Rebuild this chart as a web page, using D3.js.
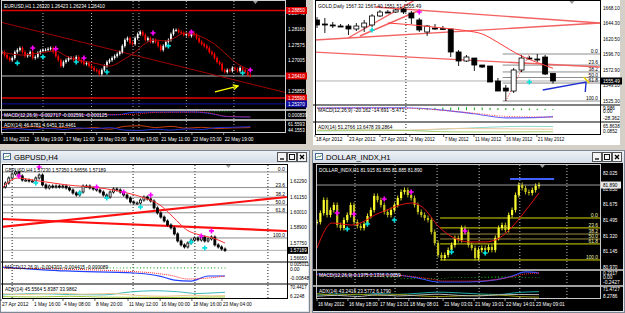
<!DOCTYPE html>
<html>
<head>
<meta charset="UTF-8">
<title>MT4 four charts</title>
<script src="https://d3js.org/d3.v7.min.js"></script>
<style>
body { margin: 0; background: #d4d0c8; }
svg { display: block; font-family: "Liberation Sans", Arial, sans-serif; }
</style>
</head>
<body>
<svg id="chart" width="625" height="313"></svg>
<script>

// ---------- EURUSD,H1 ----------
const eurCloses = [1.2730, 1.2719, 1.2708, 1.2700, 1.2708, 1.2730, 1.2738, 1.2745, 1.2730, 1.2715,
  1.2719, 1.2730, 1.2708, 1.2712, 1.2727, 1.2734, 1.2738, 1.2738, 1.2742, 1.2745,
  1.2730, 1.2715, 1.2700, 1.2678, 1.2693, 1.2700, 1.2708, 1.2708, 1.2700, 1.2712,
  1.2700, 1.2693, 1.2686, 1.2689, 1.2678, 1.2671, 1.2663, 1.2660, 1.2648, 1.2663,
  1.2678, 1.2693, 1.2700, 1.2708, 1.2715, 1.2723, 1.2730, 1.2753, 1.2775, 1.2782,
  1.2764, 1.2760, 1.2782, 1.2797, 1.2805, 1.2794, 1.2775, 1.2782, 1.2768, 1.2775,
  1.2768, 1.2753, 1.2738, 1.2753, 1.2768, 1.2775, 1.2797, 1.2812, 1.2812, 1.2805,
  1.2801, 1.2794, 1.2797, 1.2790, 1.2801, 1.2794, 1.2782, 1.2768, 1.2760, 1.2753,
  1.2745, 1.2730, 1.2723, 1.2708, 1.2693, 1.2686, 1.2663, 1.2656, 1.2663, 1.2660,
  1.2671, 1.2667, 1.2660, 1.2671, 1.2663, 1.2656, 1.2645, 1.2641];
const eurMA = [[0, 1.2730], [8, 1.2719], [15, 1.2727], [21, 1.2734], [25, 1.2715], [30, 1.2700],
  [36, 1.2689], [42, 1.2678], [48, 1.2705], [52, 1.2730], [56, 1.2762], [60, 1.2775], [64, 1.2771],
  [68, 1.2786], [71, 1.2801], [75, 1.2797], [79, 1.2782], [83, 1.2760], [87, 1.2727], [91, 1.2693],
  [95, 1.2671], [97, 1.2663]];
const eurUpFractals = [[12, 1.2745], [21, 1.2742], [32, 1.2708], [59, 1.2801], [74, 1.2805], [97, 1.2663]];
const eurDownFractals = [[6, 1.2689], [16, 1.2712], [29, 1.2693], [41, 1.2656], [65, 1.2753], [94, 1.2652]];
const eurTicks = [1.28740, 1.28160, 1.27575, 1.27005, 1.25855];
const eurLevels = [1.28850, 1.26410, 1.25590, 1.25370];
const eurTrend = [[-0.8, 1.28421], [111.5, 1.25776]];
const eurArrow = [[83.2, 1.25813], [92.2, 1.26036]];
const eurSeparators = [16, 35, 51.2, 53.5, 72, 90.6];
const eurTimes = ["16 May 2012", "16 May 19:00", "17 May 11:00", "18 May 03:00", "18 May 19:00", "21 May 11:00", "22 May 03:00", "22 May 19:00"];
const eurTimeBars = [0, 12.2, 24.6, 37, 49.4, 61.8, 74.2, 86.6];
const eurMacd = [[0, -0.0018], [45, -0.0017], [52, 0.0002], [75, 0.0003], [82, -0.0010], [88, -0.0030], [97, -0.0033]];
const eurSignal = [[0, -0.0019], [50, -0.0015], [60, 0.0000], [78, 0.0002], [88, -0.0028], [97, -0.0032]];
const eurHist = [0.0003, 0.0004, 0.0005, 0.0006, 0.0006, 0.0007, 0.0007, 0.0006, 0.0005, 0.0004, 0.0003, 0.0002];
const eurPlusDI = [[0, 30], [6, 24], [12, 34], [18, 22], [24, 30], [30, 20], [36, 28], [42, 18], [48, 36], [54, 40],
  [60, 28], [66, 36], [72, 24], [78, 30], [84, 22], [90, 26], [97, 28]];
const eurMinusDI = [[0, 16], [6, 22], [12, 14], [18, 24], [24, 16], [30, 26], [36, 20], [42, 28], [48, 12], [54, 10],
  [60, 18], [66, 12], [72, 20], [78, 16], [84, 28], [90, 30], [97, 34]];

// ---------- GOLD,Daily ----------
const goldOpen  = [1649.6, 1643.4, 1641.9, 1640.3, 1640.3, 1635.7, 1638.8, 1641.9, 1655.8, 1661.9, 1661.9, 1666.6, 1660.4, 1649.6, 1631.1, 1637.2,
  1636.5, 1635.7, 1600.2, 1586.3, 1590.9, 1580.1, 1578.6, 1555.4, 1544.6, 1540.0, 1572.4, 1590.9, 1589.4, 1592.5, 1567.3];
const goldHigh  = [1654.2, 1652.7, 1646.5, 1643.4, 1643.4, 1644.9, 1649.6, 1658.8, 1665.0, 1665.0, 1666.6, 1668.1, 1663.5, 1652.7, 1641.9, 1643.4,
  1640.3, 1635.7, 1603.3, 1595.6, 1590.9, 1580.1, 1578.6, 1560.1, 1549.3, 1575.5, 1595.6, 1594.0, 1597.1, 1595.6, 1567.4];
const goldLow   = [1637.2, 1629.5, 1637.2, 1638.8, 1626.4, 1632.6, 1631.1, 1638.8, 1654.2, 1660.4, 1660.4, 1658.8, 1643.4, 1631.1, 1624.9, 1634.2,
  1634.2, 1592.5, 1578.6, 1584.8, 1570.9, 1575.5, 1553.9, 1540.0, 1524.6, 1536.9, 1569.3, 1587.9, 1584.8, 1564.7, 1551.5];
const goldClose = [1641.9, 1642.6, 1641.5, 1640.0, 1635.7, 1640.3, 1644.9, 1655.8, 1661.9, 1661.5, 1665.0, 1661.9, 1652.7, 1634.2, 1640.3, 1636.8,
  1636.0, 1600.2, 1586.3, 1592.5, 1580.1, 1577.0, 1553.9, 1540.0, 1540.0, 1572.4, 1590.9, 1590.0, 1589.0, 1566.2, 1555.5];
const goldMA = [[9, 1645], [13, 1641], [16, 1637.2], [19, 1633], [21, 1628], [23, 1615], [24.5, 1604], [26, 1594], [28, 1584], [30, 1575]];
const goldUpFractals = [[13, 1661.9]];
const goldDownFractals = [[7, 1634.2], [27, 1553.9]];
const goldTicks = [1668.10, 1644.30, 1620.50, 1596.70, 1572.90, 1549.10, 1525.30];
const goldTrends = [
  [[7.37, 1669.6], [35.96, 1644.9]],
  [[-0.25, 1618.7], [35.96, 1644.9]],
  [[-0.64, 1600.2], [35.96, 1577.0]],
  [[3.94, 1621.8], [12.45, 1680.4]],
  [[5.46, 1624.9], [13.1, 1665.0]]
];
const goldFib = {hi: 1597.1, lo: 1524.6, from: 23.6};
const goldFibBase = [[24, 1524.6], [27, 1597.1]];
const goldBlue = [[28.7, 1541.6], [34.2, 1553.9], [34.1, 1538.5]];
const goldYellow = [[33.9, 1561.6], [34.6, 1552.4]];
const goldSeparators = [11.3];
const goldTimes = ["18 Apr 2012", "23 Apr 2012", "27 Apr 2012", "2 May 2012", "7 May 2012", "11 May 2012", "16 May 2012", "21 May 2012"];
const goldTimeBars = [-0.25, 3.94, 8.0, 11.8, 16.1, 19.95, 23.9, 27.95];
const goldMacd = [[0, 8], [11, 9], [16, 0], [20, -14], [24, -30], [27, -29], [30, -25]];
const goldSignal = [[0, 8], [11, 7], [20, -12], [24, -24], [30, -27]];
const goldHist = [5, 6, 7, 8, 8, 9, 9, 8, 8, 7, 6, 6, 5, 4, 4, 3, 3, 2];
const goldAdx = [[0, 15], [8, 18], [12, 20], [17, 35], [22, 50], [26, 58], [30, 56]];
const goldMinusDI = [[0, 22], [10, 20], [14, 28], [18, 38], [22, 36], [26, 33], [30, 31]];
const goldPlusDI = [[0, 20], [8, 24], [12, 18], [15, 9], [20, 5], [25, 6], [30, 7]];

// ---------- GBPUSD,H4 ----------
const gbpCloses = [1.6185, 1.6214, 1.6251, 1.6281, 1.6295, 1.6266, 1.6236, 1.6236, 1.6229, 1.6229,
  1.6251, 1.6273, 1.6200, 1.6178, 1.6192, 1.6185, 1.6192, 1.6185, 1.6192, 1.6178,
  1.6163, 1.6141, 1.6126, 1.6148, 1.6192, 1.6192, 1.6178, 1.6170, 1.6163, 1.6148,
  1.6126, 1.6111, 1.6148, 1.6170, 1.6163, 1.6148, 1.6126, 1.6104, 1.6075, 1.6067,
  1.6067, 1.6089, 1.6111, 1.6097, 1.6082, 1.6031, 1.5994, 1.5964, 1.5935, 1.5906,
  1.5884, 1.5840, 1.5788, 1.5759, 1.5744, 1.5773, 1.5795, 1.5810, 1.5795, 1.5817,
  1.5788, 1.5803, 1.5817, 1.5759, 1.5744, 1.5729, 1.5719];
const gbpMA = [[0, 1.6178], [4.7, 1.6251], [9.2, 1.6236], [19.2, 1.6200], [29, 1.6178], [37, 1.6141],
  [43, 1.6097], [46.7, 1.6053], [50.6, 1.5965], [54.7, 1.5869], [58.6, 1.5832], [62.4, 1.5810], [66, 1.5773]];
const gbpUpFractals = [[5, 1.6266], [11, 1.6332], [28, 1.6185], [36, 1.6148], [44, 1.6126], [59, 1.5825], [62, 1.5862]];
const gbpDownFractals = [[10, 1.6214], [23, 1.6141], [31, 1.6104], [41, 1.6038], [56, 1.5781], [60, 1.5737]];
const gbpTicks = [1.62290, 1.61150, 1.60010, 1.58900, 1.57750, 1.56650];
const gbpTrends = [[[0, 1.58909], [84.3, 1.61114]], [[0, 1.59497], [84.3, 1.58615]]];
const gbpFib = {hi: 1.62952, lo: 1.58101, from: -1};
const gbpSeparators = [3.0, 38.8, 57.1, 78.7];
const gbpTimes = ["27 Apr 2012", "1 May 16:00", "4 May 08:00", "8 May 20:00", "11 May 12:00", "16 May 00:00", "18 May 16:00", "23 May 04:00"];
const gbpTimeBars = [-0.3, 9.2, 18.05, 27.5, 37.3, 46.8, 56.2, 65.1];
const gbpMacd = [[0, 0.0013], [19, -0.0022], [39, -0.0040], [47, -0.0070], [51, -0.0103], [56, -0.0112], [61, -0.0067], [66, -0.0067]];
const gbpSignal = [[0, 0.0004], [41, -0.0031], [50, -0.0062], [55, -0.0094], [61, -0.0085], [66, -0.0067]];
const gbpHist = [0.0002, 0.0002, 0.0003, 0.0003, 0.0002, 0.0002, 0.0003, 0.0003, 0.0004, 0.0004,
  0.0003, 0.0003, 0.0002, 0.0002, 0.0003, 0.0004, 0.0004, 0.0005, 0.0005, 0.0004,
  0.0004, 0.0005, 0.0006, 0.0006, 0.0005, 0.0005, 0.0006, 0.0007, 0.0007, 0.0006,
  0.0006, 0.0007, 0.0008, 0.0008, 0.0007, 0.0007, 0.0008, 0.0008, 0.0007, 0.0006,
  0.0006, 0.0007, 0.0008, 0.0008, 0.0007, 0.0006, 0.0006, 0.0007, 0.0008, 0.0007,
  0.0006, 0.0006, 0.0007, 0.0007, 0.0006, 0.0006, 0.0005];
const gbpAdx = [[0, 18], [10, 25], [20, 20], [30, 18], [38, 35], [45, 42], [52, 36], [58, 26], [63, 30], [66, 33]];
const gbpMinusDI = [[0, 25], [8, 20], [16, 28], [24, 22], [32, 26], [40, 15], [48, 10], [56, 16], [62, 12], [66, 14]];
const gbpPlusDI = [[0, 8], [10, 6], [20, 10], [30, 5], [40, 4], [50, 3], [60, 5], [66, 6]];

// ---------- DOLLAR_INDX,H1 ----------
const dxCloses = [81.475, 81.576, 81.722, 81.554, 81.610, 81.666, 81.441, 81.408, 81.498, 81.554,
  81.666, 81.475, 81.430, 81.408, 81.453, 81.542, 81.610, 81.767, 81.722, 81.666,
  81.587, 81.554, 81.610, 81.666, 81.744, 81.812, 81.834, 81.778, 81.744, 81.666,
  81.587, 81.554, 81.520, 81.498, 81.363, 81.239, 81.105, 81.071, 81.105, 81.161,
  81.217, 81.296, 81.273, 81.408, 81.363, 81.217, 81.183, 81.071, 81.161, 81.183,
  81.161, 81.195, 81.161, 81.296, 81.408, 81.441, 81.385, 81.554, 81.610, 81.778,
  81.890, 81.857, 81.812, 81.801, 81.834, 81.880, 81.890];
const dxMA = [[0, 81.183], [4.5, 81.464], [10.4, 81.441], [18.5, 81.576], [28.3, 81.688], [31.3, 81.643],
  [36.3, 81.419], [40.2, 81.307], [45.2, 81.251], [50, 81.251], [54.2, 81.296], [58, 81.419], [61, 81.554], [66, 81.801]];
const dxUpFractals = [[6, 81.576], [11, 81.565], [20, 81.733], [28, 81.812], [44, 81.374]];
const dxDownFractals = [[9, 81.397], [15, 81.453], [23, 81.498], [40, 81.138], [50, 81.127]];
const dxTicks = [82.025, 81.850, 81.675, 81.495, 81.320, 81.145, 80.970];
const dxBlue = [[57.4, 81.958], [70.5, 81.958]];
const dxFib = {hi: 81.520, lo: 81.049, from: 36.6};
const dxSeparators = [11.3, 23.2, 35.7, 48.2, 60.3, 74.3];
const dxTimes = ["16 May 2012", "16 May 18:00", "17 May 13:01", "18 May 08:01", "21 May 03:01", "21 May 19:01", "22 May 14:01", "23 May 09:01"];
const dxTimeBars = [0, 9.2, 18.4, 27.3, 37.5, 46.7, 55.9, 64.8];
const dxMacd = [[0, 0.185], [10, 0.14], [20, 0.185], [30, 0], [36, -0.185], [45, -0.185], [53, -0.09], [58, 0.09], [62, 0.28], [66, 0.23]];
const dxSignal = [[0, 0.14], [20, 0.14], [32, 0], [38, -0.14], [48, -0.14], [56, 0], [62, 0.185], [66, 0.23]];
const dxHist = [0.01, 0.02, 0.02, 0.01, 0.00, -0.01, -0.02, -0.03, -0.03, -0.02,
  -0.02, -0.03, -0.04, -0.04, -0.03, -0.02, -0.02, -0.01, -0.01, 0.00,
  0.00, 0.01, 0.01, 0.02, 0.02, 0.01, 0.01, 0.02, 0.03, 0.03,
  0.04, 0.04, 0.05, 0.05, 0.06, 0.06, 0.05, 0.05, 0.04, 0.04,
  0.03, 0.03, 0.02, 0.02, 0.01, 0.01, 0.01];
const dxAdx = [[0, 20], [6, 28], [12, 22], [18, 30], [24, 25], [30, 32], [36, 40], [42, 35], [48, 28], [54, 24], [60, 38], [66, 43]];
const dxPlusDI = [[0, 30], [6, 20], [12, 26], [18, 18], [24, 24], [30, 15], [36, 10], [42, 14], [48, 18], [54, 20], [60, 10], [66, 6]];
const dxMinusDI = [[0, 12], [6, 18], [12, 10], [18, 22], [24, 14], [30, 20], [36, 26], [42, 18], [48, 14], [54, 22], [60, 24], [66, 23]];

const fibLevels = [0, 23.6, 38.2, 50.0, 61.8, 100.0];

// ---------------------------------------------------------------
const svg = d3.select("#chart");
svg.append("rect").attr("width", 625).attr("height", 313).attr("fill", "#d4d0c8");

const defs = svg.append("defs");
const tg = defs.append("linearGradient").attr("id", "tbar").attr("x1", 0).attr("x2", 0).attr("y1", 0).attr("y2", 1);
tg.append("stop").attr("offset", 0).attr("stop-color", "#eef2f7");
tg.append("stop").attr("offset", 1).attr("stop-color", "#d3dbe5");
defs.append("marker").attr("id", "yhead").attr("viewBox", "0 0 8 8").attr("refX", 7).attr("refY", 4)
  .attr("markerWidth", 5).attr("markerHeight", 5).attr("orient", "auto")
  .append("path").attr("d", "M1,1L7,4L1,7").attr("fill", "none").attr("stroke", "#ffff00").attr("stroke-width", 1.5);

// small MT4-style label: squeezed to ~2.4px per character
function label(g, x, y, s, fill, anchor) {
  return g.append("text").attr("x", x).attr("y", y).attr("fill", fill)
    .attr("text-anchor", anchor || "start")
    .attr("textLength", s.length * 2.4).attr("lengthAdjust", "spacingAndGlyphs")
    .text(s);
}

// MDI child window frame (title bar + buttons)
function windowFrame(x0, y0, w, h, title) {
  const g = svg.append("g");
  g.append("rect").attr("x", x0 + 0.5).attr("y", y0 + 0.5).attr("width", w - 1).attr("height", h - 1)
    .attr("fill", "#dfe4ea").attr("stroke", "#7d8794");
  g.append("rect").attr("x", x0 + 1).attr("y", y0 + 1).attr("width", w - 2).attr("height", 12).attr("fill", "url(#tbar)");
  g.append("rect").attr("x", x0 + 3.5).attr("y", y0 + 3.5).attr("width", 7).attr("height", 6)
    .attr("fill", "#fff").attr("stroke", "#4a6b94");
  g.append("path").attr("d", `M${x0 + 4.5},${y0 + 8}l2,-2l1.5,1l1.5,-2`).attr("fill", "none").attr("stroke", "#2d7a2d").attr("stroke-width", 0.8);
  g.append("text").attr("x", x0 + 14).attr("y", y0 + 10).attr("font-size", 7.6).attr("fill", "#000").text(title);
  const bx = x0 + w - 33;
  ["min", "max", "close"].forEach((b, k) => {
    const xb = bx + k * 10;
    g.append("rect").attr("x", xb + 0.5).attr("y", y0 + 2.5).attr("width", 9).attr("height", 9)
      .attr("fill", "#f4f4f4").attr("stroke", "#555");
    if (b === "min") g.append("path").attr("d", `M${xb + 3},${y0 + 9}h4`).attr("stroke", "#000").attr("stroke-width", 1.3);
    if (b === "max") g.append("rect").attr("x", xb + 2.5).attr("y", y0 + 4.5).attr("width", 5).attr("height", 5)
      .attr("fill", "none").attr("stroke", "#000").attr("stroke-width", 0.9);
    if (b === "close") g.append("path").attr("d", `M${xb + 3},${y0 + 5}l4,4M${xb + 7},${y0 + 5}l-4,4`)
      .attr("stroke", "#000").attr("stroke-width", 1.3);
  });
}

function drawPanel(c) {
  const g = svg.append("g").attr("font-size", 5.8);
  const x = d3.scaleLinear().domain(c.xCal[0]).range(c.xCal[1]);
  const y = d3.scaleLinear().domain(c.yCal[0]).range(c.yCal[1]);
  const L = c.left, R = c.right, T = c.main[0], B = c.main[1];
  const lastB = c.subs[c.subs.length - 1].bottom;

  g.append("rect").attr("x", c.box[0]).attr("y", c.box[1]).attr("width", c.box[2]).attr("height", c.box[3]).attr("fill", c.bg);

  // period separators
  c.vlines.forEach(b => {
    g.append("line").attr("x1", x(b)).attr("x2", x(b)).attr("y1", T).attr("y2", lastB)
      .attr("stroke", c.vColor).attr("stroke-dasharray", "1,2").attr("stroke-width", 0.9);
  });

  const clipId = "clip-" + c.key;
  g.append("clipPath").attr("id", clipId).append("rect").attr("x", L).attr("y", T).attr("width", R - L).attr("height", B - T);
  const m = g.append("g").attr("clip-path", `url(#${clipId})`);
  const line = d3.line().x(d => x(d[0])).y(d => y(d[1]));

  // horizontal price lines
  (c.hlines || []).forEach(h => {
    m.append("line").attr("x1", L).attr("x2", R).attr("y1", y(h.v)).attr("y2", y(h.v))
      .attr("stroke", h.color).attr("stroke-width", h.w || 1);
  });

  // fibonacci
  if (c.fib) {
    const f = c.fib;
    fibLevels.forEach(r => {
      const p = f.data.hi - (f.data.hi - f.data.lo) * r / 100;
      const xs = f.data.from < 0 ? L : x(f.data.from);
      m.append("line").attr("x1", xs).attr("x2", R).attr("y1", y(p)).attr("y2", y(p))
        .attr("stroke", (r === 38.2 || r === 50) && f.mid ? f.mid : f.color).attr("stroke-width", 1);
      label(m, R - 2, y(p) - 1, r.toFixed(1), f.text, "end");
    });
    if (f.base) m.append("path").attr("d", line(f.base)).attr("fill", "none")
      .attr("stroke", "#ff3030").attr("stroke-dasharray", "1,1.5");
  }

  // trend lines and drawings
  (c.trends || []).forEach(t => {
    m.append("path").attr("d", line(t.pts)).attr("fill", "none").attr("stroke", t.color)
      .attr("stroke-width", t.w || 1).attr("marker-end", t.head ? "url(#yhead)" : null);
  });

  // candles
  const bars = c.close.map((cl, i) => {
    const o = c.open ? c.open[i] : (i ? c.close[i - 1] : cl);
    return {i, o, cl, h: c.high ? c.high[i] : Math.max(o, cl), l: c.low ? c.low[i] : Math.min(o, cl)};
  });
  const ext = c.high ? 0 : c.wick;
  const cg = m.append("g");
  cg.selectAll("line").data(bars).join("line")
    .attr("x1", d => x(d.i)).attr("x2", d => x(d.i))
    .attr("y1", d => y(d.h) - ext).attr("y2", d => y(d.l) + ext)
    .attr("stroke", d => d.cl >= d.o ? c.bull.wick : c.bear.wick).attr("stroke-width", 0.9);
  cg.selectAll("rect").data(bars).join("rect")
    .attr("x", d => x(d.i) - c.bodyW / 2)
    .attr("y", d => y(Math.max(d.o, d.cl)))
    .attr("width", c.bodyW)
    .attr("height", d => Math.max(1, Math.abs(y(d.o) - y(d.cl))))
    .attr("fill", d => d.cl >= d.o ? c.bull.fill : c.bear.fill)
    .attr("stroke", d => (d.cl >= d.o ? c.bull.stroke : c.bear.stroke) || "none")
    .attr("stroke-width", 0.8);

  // moving average
  m.append("path").attr("d", line.curve(d3.curveMonotoneX)(c.ma.pts)).attr("fill", "none")
    .attr("stroke", c.ma.color).attr("stroke-width", c.ma.w || 1);
  line.curve(d3.curveLinear);

  // fractal arrows
  const cross = (pts, color) => pts.forEach(p => {
    const cx = x(p[0]), cy = y(p[1]);
    m.append("path").attr("d", `M${cx - 2.5},${cy}h5M${cx},${cy - 2.5}v5`).attr("stroke", color).attr("stroke-width", 1.6);
  });
  cross(c.up, "#ff00ff");
  cross(c.down, "#00e0e0");

  // header
  label(g, L + 3, T + 7, c.header, c.fg);

  // price axis
  c.ticks.forEach(v => label(g, R + 3, y(v) + 2, v.toFixed(c.digits), c.fg));
  (c.boxes || []).forEach(b => {
    g.append("rect").attr("x", R + 1).attr("y", y(b.v) - 3.5).attr("width", c.axisW).attr("height", 7).attr("fill", b.bg);
    label(g, R + 3, y(b.v) + 2, b.v.toFixed(c.digits), b.fg);
  });
  g.append("path").attr("d", `M${x(c.shiftBar) - 2.5},${T}h5l-2.5,3z`).attr("fill", "#9a9a9a");

  // indicator sub-windows
  c.subs.forEach((s, k) => {
    g.append("rect").attr("x", c.box[0]).attr("y", s.top - 2).attr("width", c.box[2]).attr("height", 2).attr("fill", c.sep);
    const sy = d3.scaleLinear().domain(s.cal[0]).range(s.cal[1]);
    const sid = clipId + "-" + k;
    g.append("clipPath").attr("id", sid).append("rect").attr("x", L).attr("y", s.top).attr("width", R - L).attr("height", s.bottom - s.top);
    const sg = g.append("g").attr("clip-path", `url(#${sid})`);
    if (s.hist) s.hist.vals.forEach((v, j) => {
      const xi = x(s.hist.start + j);
      sg.append("line").attr("x1", xi).attr("x2", xi).attr("y1", sy(0)).attr("y2", sy(v) + (v >= 0 ? -0.5 : 0.5))
        .attr("stroke", s.hist.color).attr("stroke-width", 1);
    });
    const sl = d3.line().x(d => x(d[0])).y(d => sy(d[1])).curve(d3.curveMonotoneX);
    s.lines.forEach(l => {
      sg.append("path").attr("d", sl(l.pts)).attr("fill", "none").attr("stroke", l.color)
        .attr("stroke-width", l.w || 1).attr("stroke-dasharray", l.dash || null);
    });
    label(g, L + 3, s.top + 6, s.title, c.fg);
    s.labels.forEach(a => label(g, R + 3, a.y, a.t, c.fg));
  });

  // chart frame
  g.append("rect").attr("x", L + 0.5).attr("y", T - 0.5).attr("width", R - L).attr("height", lastB - T + 1)
    .attr("fill", "none").attr("stroke", c.frame).attr("stroke-width", 1);

  // time axis
  c.times.forEach((t, k) => {
    const tx = x(c.timeBars[k]);
    g.append("line").attr("x1", tx).attr("x2", tx).attr("y1", lastB + 1).attr("y2", lastB + 3).attr("stroke", c.fg).attr("stroke-width", 0.6);
    label(g, tx + 1, c.timeY, t, c.fg);
  });
}

windowFrame(0, 150, 310, 163, "GBPUSD,H4");
windowFrame(312, 150, 313, 163, "DOLLAR_INDX,H1");

// EURUSD
drawPanel({
  key: "eur", box: [0, 0, 306, 144], bg: "#000", fg: "#fff", sep: "#a8a8a8", frame: "#d0d0d0", vColor: "#d0d0d0",
  left: 1, right: 285, main: [1, 108], axisW: 21,
  xCal: [[0, 97], [2, 250.3]], yCal: [[1.28160, 1.27005], [29, 60]],
  close: eurCloses, bodyW: 1.7, wick: 1.6,
  bull: {fill: "#ffffff", wick: "#ffffff"}, bear: {fill: "#ff0000", wick: "#ff0000"},
  ma: {pts: eurMA, color: "#b00000"},
  up: eurUpFractals, down: eurDownFractals,
  hlines: [{v: eurLevels[0], color: "#e00000", w: 1.5}, {v: eurLevels[1], color: "#bdbdbd"},
    {v: eurLevels[2], color: "#e00000", w: 1.5}, {v: eurLevels[3], color: "#1010a0"}],
  trends: [{pts: eurTrend, color: "#a00000"}, {pts: eurArrow, color: "#ffff00", w: 1.3, head: true}],
  ticks: eurTicks, digits: 5,
  boxes: [{v: eurLevels[0], bg: "#e00000", fg: "#fff"}, {v: eurLevels[1], bg: "#e00000", fg: "#fff"},
    {v: eurLevels[2], bg: "#e00000", fg: "#fff"}, {v: eurLevels[3], bg: "#1010a0", fg: "#fff"}],
  header: "EURUSD,H1  1.26320 1.26423 1.26234 1.26410",
  shiftBar: 99, vlines: eurSeparators,
  subs: [
    {top: 111, bottom: 118, cal: [[0.001, -0.004], [111, 118]], title: "MACD(12,26,9) -0.002717 -0.002591 -0.000125",
      labels: [{y: 116.5, t: "0.000839"}],
      hist: {start: 80, vals: eurHist, color: "#007000"},
      lines: [{pts: eurMacd, color: "#2040ff"}, {pts: eurSignal, color: "#ff2020", dash: "1,1"}]},
    {top: 121, bottom: 132, cal: [[70, 0], [121, 132]], title: "ADX(14) 46.6781 4.6451 33.4461",
      labels: [{y: 125.5, t: "61.5593"}, {y: 131.5, t: "44.1553"}],
      lines: [{pts: eurPlusDI, color: "#c84010"}, {pts: eurMinusDI, color: "#2030d0"}]}
  ],
  times: eurTimes, timeBars: eurTimeBars, timeY: 141
});

// GOLD
drawPanel({
  key: "gold", box: [313, 0, 307, 145], bg: "#fff", fg: "#000", sep: "#808080", frame: "#000", vColor: "#000",
  left: 315, right: 600, main: [1, 103], axisW: 21,
  xCal: [[0, 30], [317, 553]], yCal: [[1668.1, 1524.6], [8, 101]],
  open: goldOpen, high: goldHigh, low: goldLow, close: goldClose, bodyW: 5,
  bull: {fill: "#fff", stroke: "#000", wick: "#000"}, bear: {fill: "#000", stroke: "#000", wick: "#000"},
  ma: {pts: goldMA, color: "#ff3b3b"},
  up: goldUpFractals, down: goldDownFractals,
  hlines: [{v: 1555.49, color: "#b0b0b0"}],
  fib: {data: goldFib, color: "#8c8c8c", text: "#000", base: goldFibBase},
  trends: goldTrends.map(t => ({pts: t, color: "#f26262", w: 1.4}))
    .concat([{pts: goldBlue, color: "#2030d0", w: 1.4}, {pts: goldYellow, color: "#f0d000", w: 1.6}]),
  ticks: goldTicks, digits: 2,
  boxes: [{v: 1555.49, bg: "#000", fg: "#fff"}],
  header: "GOLD,Daily  1567.32 1567.40 1551.51 1555.49",
  shiftBar: 32.4, vlines: goldSeparators,
  subs: [
    {top: 106, bottom: 120, cal: [[9.986, -28.362], [107.5, 117.5]], title: "MACD(12,26,9) -20.162 -14.691 -5.471",
      labels: [{y: 109.5, t: "9.986"}, {y: 113, t: "0.00"}, {y: 119.5, t: "-28.362"}],
      hist: {start: 13, vals: goldHist, color: "#10a010"},
      lines: [{pts: goldMacd, color: "#6060ff", w: 1.2}, {pts: goldSignal, color: "#ff4040", dash: "1,1.5"}]},
    {top: 123, bottom: 134, cal: [[65.86, 0.09], [125.5, 132.5]], title: "ADX(14) 51.2766 13.6478 39.2864",
      labels: [{y: 127.5, t: "65.8638"}, {y: 133, t: "0.0852"}],
      lines: [{pts: goldAdx, color: "#8fd8d0"}, {pts: goldMinusDI, color: "#f0c8a0"}, {pts: goldPlusDI, color: "#a8cc70"}]}
  ],
  times: goldTimes, timeBars: goldTimeBars, timeY: 141
});

// GBPUSD
drawPanel({
  key: "gbp", box: [1, 163, 307, 148], bg: "#fff", fg: "#000", sep: "#808080", frame: "#000", vColor: "#000",
  left: 2, right: 287, main: [165, 260], axisW: 20,
  xCal: [[0, 66], [2, 225]], yCal: [[1.6229, 1.5665], [181, 257.7]],
  close: gbpCloses, bodyW: 2, wick: 1.6,
  bull: {fill: "#fff", stroke: "#000", wick: "#000"}, bear: {fill: "#000", stroke: "#000", wick: "#000"},
  ma: {pts: gbpMA, color: "#ff3030"},
  up: gbpUpFractals, down: gbpDownFractals,
  hlines: [{v: 1.57189, color: "#b0b0b0"}],
  fib: {data: gbpFib, color: "#8c8c8c", text: "#000"},
  trends: gbpTrends.map(t => ({pts: t, color: "#ff1010", w: 2.2})),
  ticks: gbpTicks, digits: 5,
  boxes: [{v: 1.57189, bg: "#000", fg: "#fff"}],
  header: "GBPUSD,H4  1.57230 1.57350 1.56556 1.57189",
  shiftBar: 67, vlines: gbpSeparators,
  subs: [
    {top: 263, bottom: 282, cal: [[0, -0.00848], [268.5, 278]], title: "MACD(12,26,9) -0.004303 -0.004415 -0.000089",
      labels: [{y: 266, t: "0.005011"}, {y: 270.5, t: "0.00"}, {y: 280, t: "-0.00848"}],
      hist: {start: 10, vals: gbpHist, color: "#30b030"},
      lines: [{pts: gbpMacd, color: "#2040ff", w: 1.2}, {pts: gbpSignal, color: "#ff2020", dash: "1,1"}]},
    {top: 285, bottom: 298, cal: [[75, 0], [285, 298]], title: "ADX(14) 45.5564 5.8387 33.9862",
      labels: [{y: 289, t: "70.4417"}, {y: 297.5, t: "6.2248"}],
      lines: [{pts: gbpAdx, color: "#40b8b8"}, {pts: gbpMinusDI, color: "#f0c890"}, {pts: gbpPlusDI, color: "#a0cc40"}]}
  ],
  times: gbpTimes, timeBars: gbpTimeBars, timeY: 306
});

// DOLLAR INDEX
drawPanel({
  key: "dx", box: [313, 163, 310, 148], bg: "#000", fg: "#fff", sep: "#a0a0a0", frame: "#c8c8c8", vColor: "#d8d8d8",
  left: 316, right: 600, main: [165, 268], axisW: 20,
  xCal: [[0, 66], [317, 539]], yCal: [[82.025, 80.970], [173, 267]],
  close: dxCloses, bodyW: 2.2, wick: 2.5,
  bull: {fill: "#ffff30", wick: "#ffff30"}, bear: {fill: "#c8c820", wick: "#c8c820"},
  ma: {pts: dxMA, color: "#e01010"},
  up: dxUpFractals, down: dxDownFractals,
  hlines: [{v: 81.890, color: "#9a9a9a"}],
  fib: {data: dxFib, color: "#d8d800", mid: "#9c8c3c", text: "#f0f0b0"},
  trends: [{pts: dxBlue, color: "#4060ff", w: 2}],
  ticks: dxTicks, digits: 3,
  boxes: [{v: 81.890, bg: "#e8e8e8", fg: "#000"}],
  header: "DOLLAR_INDX,H1  81.915 81.955 81.885 81.890",
  shiftBar: 67, vlines: dxSeparators,
  subs: [
    {top: 271, bottom: 284, cal: [[0.2317, 0], [273, 278]], title: "MACD(12,26,9) 0.1375 0.1316 0.0059",
      labels: [{y: 274.5, t: "0.2317"}, {y: 279, t: "0.00"}, {y: 283.5, t: "-0.2427"}],
      hist: {start: 20, vals: dxHist, color: "#10a010"},
      lines: [{pts: dxMacd, color: "#3050ff", w: 1.2}, {pts: dxSignal, color: "#ff2020", dash: "1,1"}]},
    {top: 287, bottom: 298, cal: [[75, 0], [287, 298]], title: "ADX(14) 43.2416 23.5772 6.1790",
      labels: [{y: 290.5, t: "71.4727"}, {y: 297.5, t: "8.2786"}],
      lines: [{pts: dxAdx, color: "#20a8a8"}, {pts: dxPlusDI, color: "#909000"}, {pts: dxMinusDI, color: "#b8b8b8"}]}
  ],
  times: dxTimes, timeBars: dxTimeBars, timeY: 306
});

</script>
</body>
</html>
